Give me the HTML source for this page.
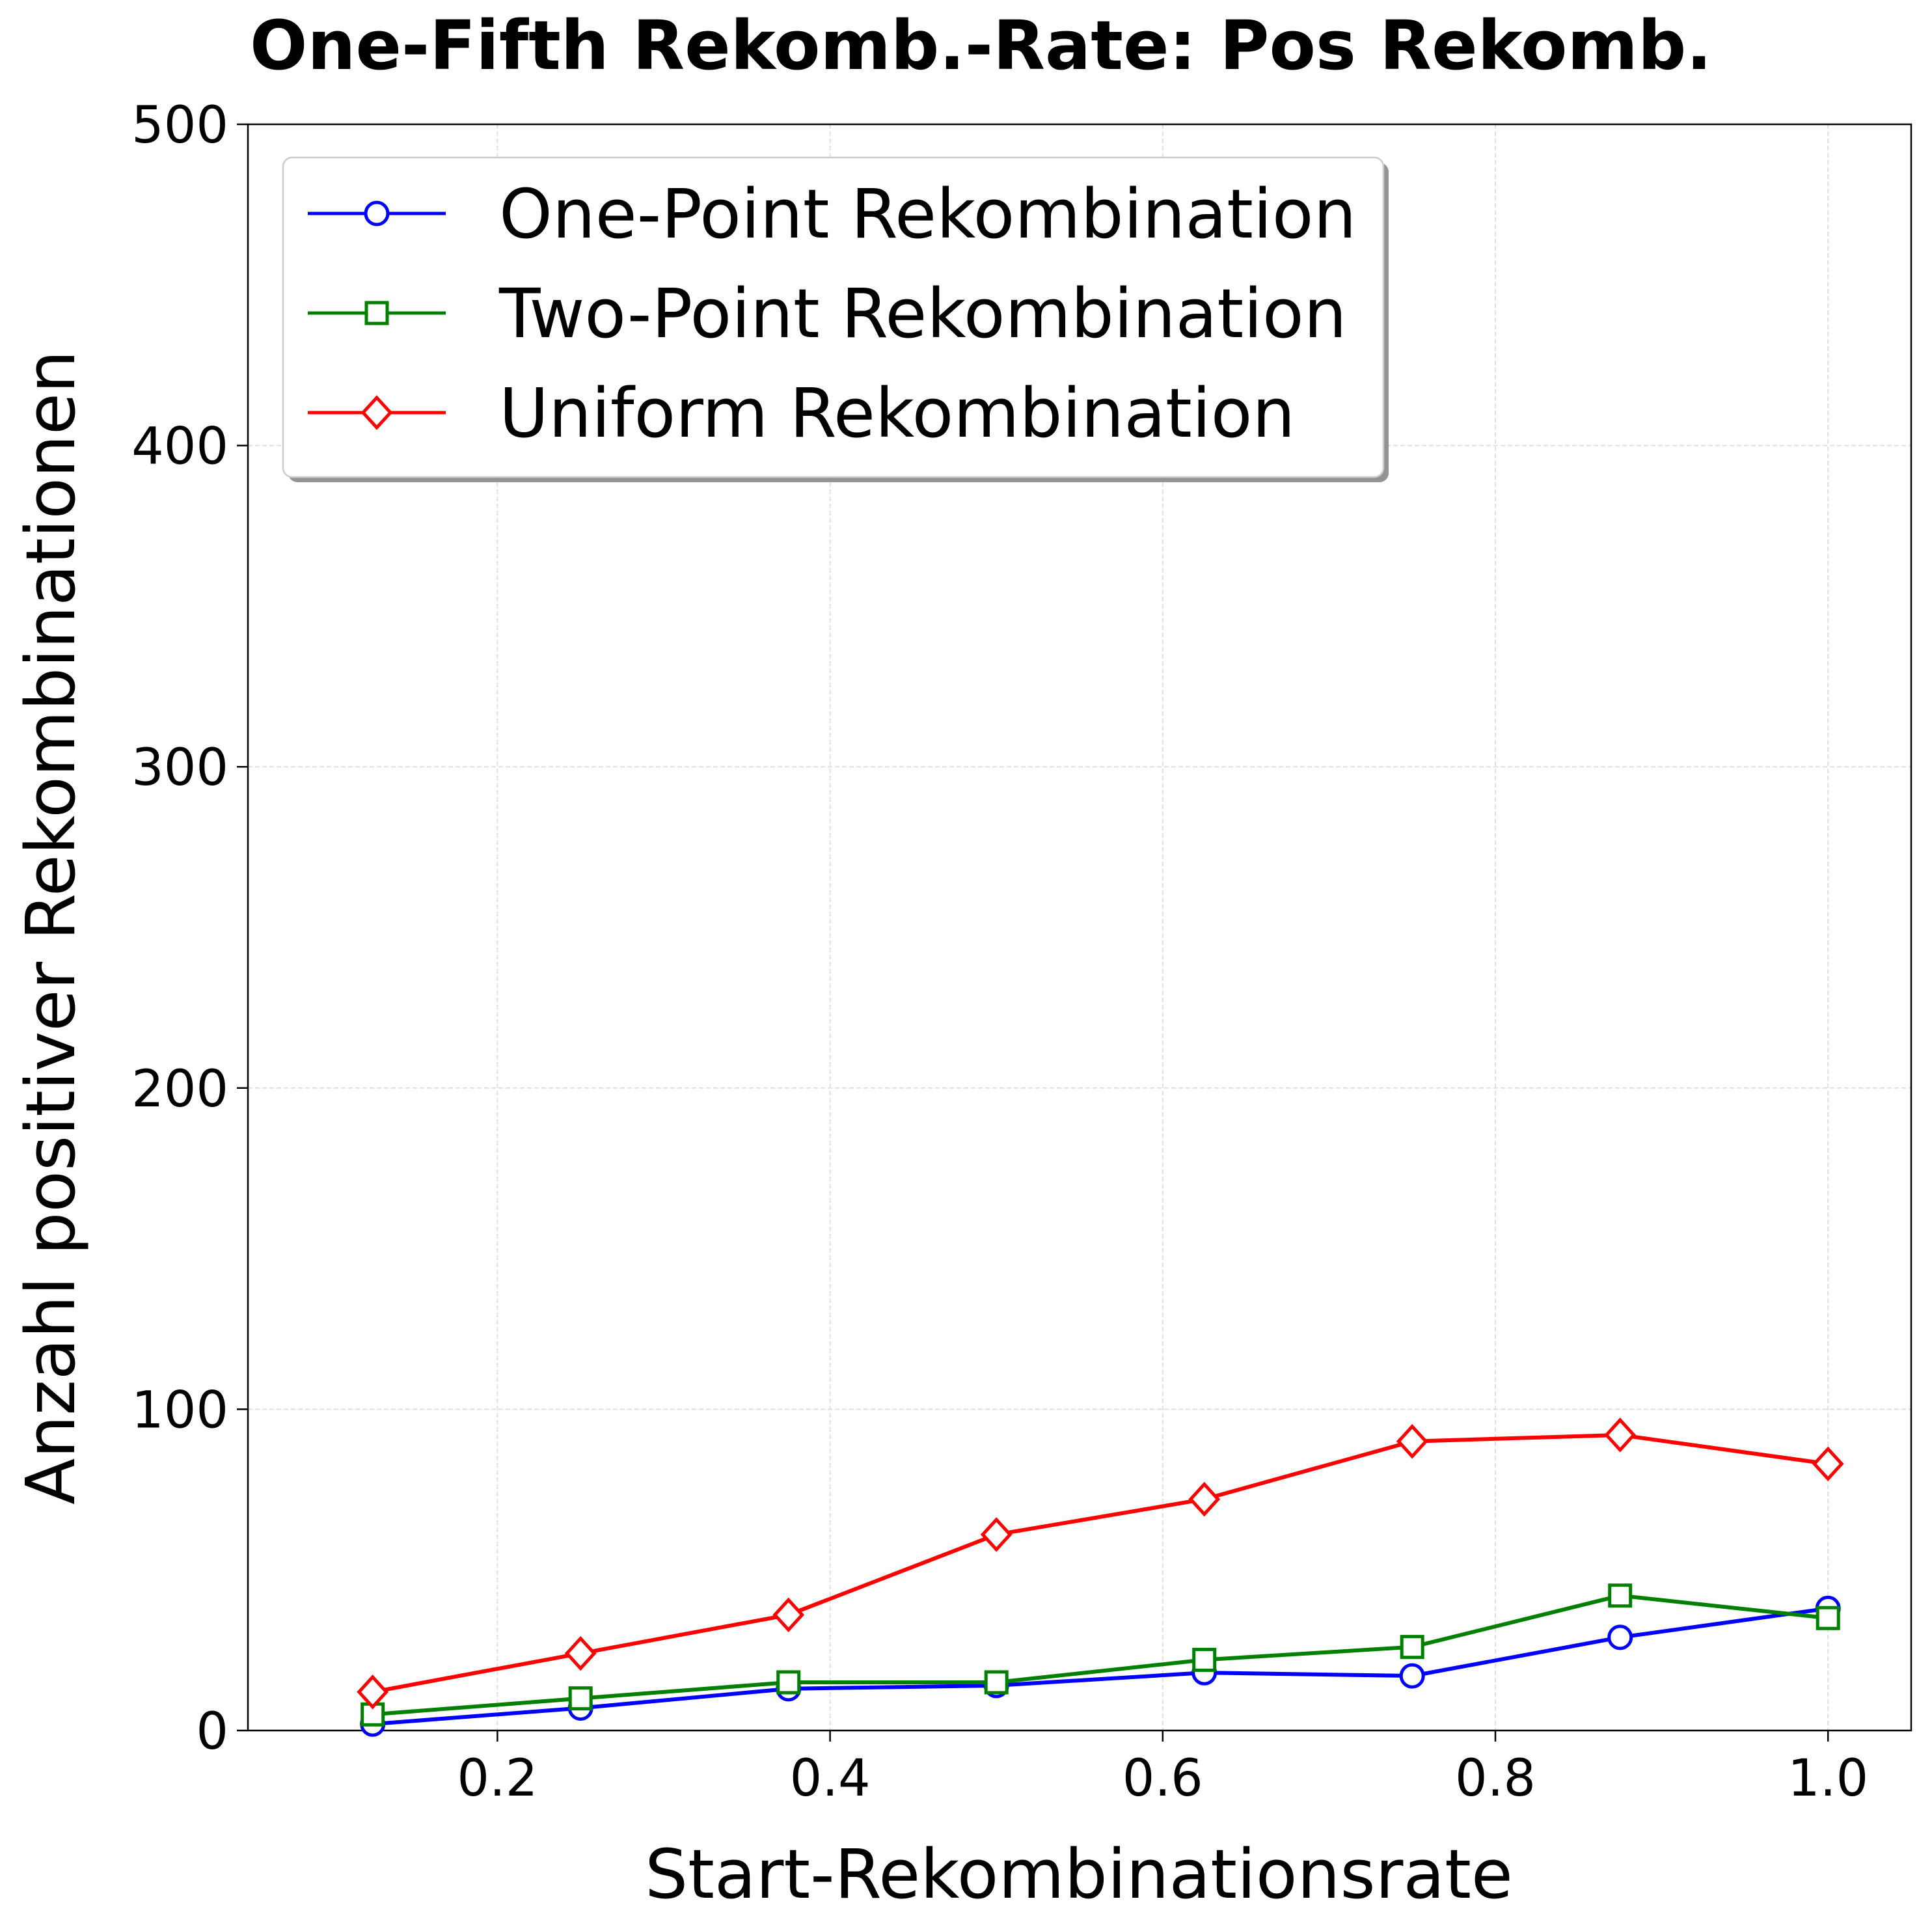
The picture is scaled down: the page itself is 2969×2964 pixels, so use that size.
<!DOCTYPE html>
<html><head><meta charset="utf-8"><style>
html,body{margin:0;padding:0;background:#fff;}
svg{display:block;font-family:"DejaVu Sans","Liberation Sans",sans-serif;}
</style></head><body>
<svg id="chart" width="2969" height="2964" viewBox="0 0 2969 2964" xmlns="http://www.w3.org/2000/svg">
<rect width="2969" height="2964" fill="#fff"/>
<text x="384" y="106" font-size="104" font-weight="bold">One-Fifth Rekomb.-Rate: Pos Rekomb.</text>
<g id="grid"></g>
<g id="axes"></g>
<g id="series"></g>
<text x="1658" y="2916" font-size="104" text-anchor="middle">Start-Rekombinationsrate</text>
<text transform="translate(114,1425) rotate(-90)" font-size="104" text-anchor="middle">Anzahl positiver Rekombinationen</text>
<g id="legend"></g>
</svg>
<script>
const xValues = [0.125, 0.25, 0.375, 0.5, 0.625, 0.75, 0.875, 1.0];
const onePoint = [2, 7, 13, 14, 18, 17, 29, 38];
const twoPoint = [5, 10, 15, 15, 22, 26, 42, 35];
const uniform = [12, 24, 36, 61, 72, 90, 92, 83];
const seriesNames = ["One-Point Rekombination", "Two-Point Rekombination", "Uniform Rekombination"];
const xTicks = [0.2, 0.4, 0.6, 0.8, 1.0];
const xTickLabels = ["0.2", "0.4", "0.6", "0.8", "1.0"];
const yTicks = [0, 100, 200, 300, 400, 500];
const yTickLabels = ["0", "100", "200", "300", "400", "500"];

const NS = "http://www.w3.org/2000/svg";
const L = 381, R = 2937, T = 191, B = 2659;
const xMin = 0.05, xMax = 1.05, yMin = 0, yMax = 500;
const xs = v => L + (v - xMin) / (xMax - xMin) * (R - L);
const ys = v => B - (v - yMin) / (yMax - yMin) * (B - T);
function mk(tag, attrs, parent) {
  const e = document.createElementNS(NS, tag);
  for (const k in attrs) e.setAttribute(k, attrs[k]);
  parent.appendChild(e);
  return e;
}
const grid = document.getElementById("grid");
const axes = document.getElementById("axes");
const series = document.getElementById("series");
const legend = document.getElementById("legend");

xTicks.forEach((t, i) => {
  const x = xs(t);
  const g = mk("line", {x1: x, x2: x, y1: T, y2: B, stroke: "#e0e0e0", "stroke-width": 2, "stroke-dasharray": "7,4"}, grid);
  
  
  const tk = mk("line", {x1: x, x2: x, y1: B, y2: B + 17, stroke: "#000", "stroke-width": 2.5}, axes);
  
  
  const lb = mk("text", {x: x, y: B + 100, "font-size": 78, "text-anchor": "middle"}, axes);
  lb.textContent = xTickLabels[i];
  
  
});
yTicks.forEach((t, i) => {
  const y = ys(t);
  const g = mk("line", {x1: L, x2: R, y1: y, y2: y, stroke: "#e0e0e0", "stroke-width": 2, "stroke-dasharray": "7,4"}, grid);
  
  
  const tk = mk("line", {x1: L - 17, x2: L, y1: y, y2: y, stroke: "#000", "stroke-width": 2.5}, axes);
  
  
  const lb = mk("text", {x: L - 30, y: y + 28, "font-size": 78, "text-anchor": "end"}, axes);
  lb.textContent = yTickLabels[i];
  
  
});
const frame = mk("rect", {x: L, y: T, width: R - L, height: B - T, fill: "none", stroke: "#000", "stroke-width": 2.5}, axes);



function marker(kind, x, y, color, parent) {
  let e;
  if (kind === "circle") e = mk("circle", {cx: x, cy: y, r: 17, fill: "#fff", stroke: color, "stroke-width": 5}, parent);
  else if (kind === "square") e = mk("rect", {x: x - 16, y: y - 16, width: 32, height: 32, fill: "#fff", stroke: color, "stroke-width": 5}, parent);
  else e = mk("polygon", {points: `${x},${y-23} ${x+21},${y} ${x},${y+23} ${x-21},${y}`, fill: "#fff", stroke: color, "stroke-width": 5}, parent);
  return e;
}
const allSeries = [
  {vals: onePoint, color: "#0000ff", m: "circle", key: "one-point"},
  {vals: twoPoint, color: "#008000", m: "square", key: "two-point"},
  {vals: uniform, color: "#ff0000", m: "diamond", key: "uniform"}
];
allSeries.forEach(s => {
  const g = mk("g", {}, series);
  
  
  const pts = s.vals.map((v, i) => xs(xValues[i]) + "," + ys(v)).join(" ");
  const pl = mk("polyline", {points: pts, fill: "none", stroke: s.color, "stroke-width": 6}, g);
  
  
  s.vals.forEach((v, i) => {
    const mm = marker(s.m, xs(xValues[i]), ys(v), s.color, g);
    
    
  });
});

// legend
const sh = mk("rect", {x: 443, y: 250, width: 1691, height: 491, rx: 14, fill: "#888", opacity: 0.9}, legend);


const box = mk("rect", {x: 435, y: 242, width: 1691, height: 491, rx: 14, fill: "#fff", stroke: "#ccc", "stroke-width": 2.5}, legend);


allSeries.forEach((s, i) => {
  const y = 328 + i * 153;
  const g = mk("g", {}, legend);
  
  
  mk("line", {x1: 473, x2: 685, y1: y, y2: y, stroke: s.color, "stroke-width": 5}, g);
  marker(s.m, 579, y, s.color, g);
  const t = mk("text", {x: 767, y: y + 37, "font-size": 104}, g);
  t.textContent = seriesNames[i];
  
  
});
</script>
</body></html>
